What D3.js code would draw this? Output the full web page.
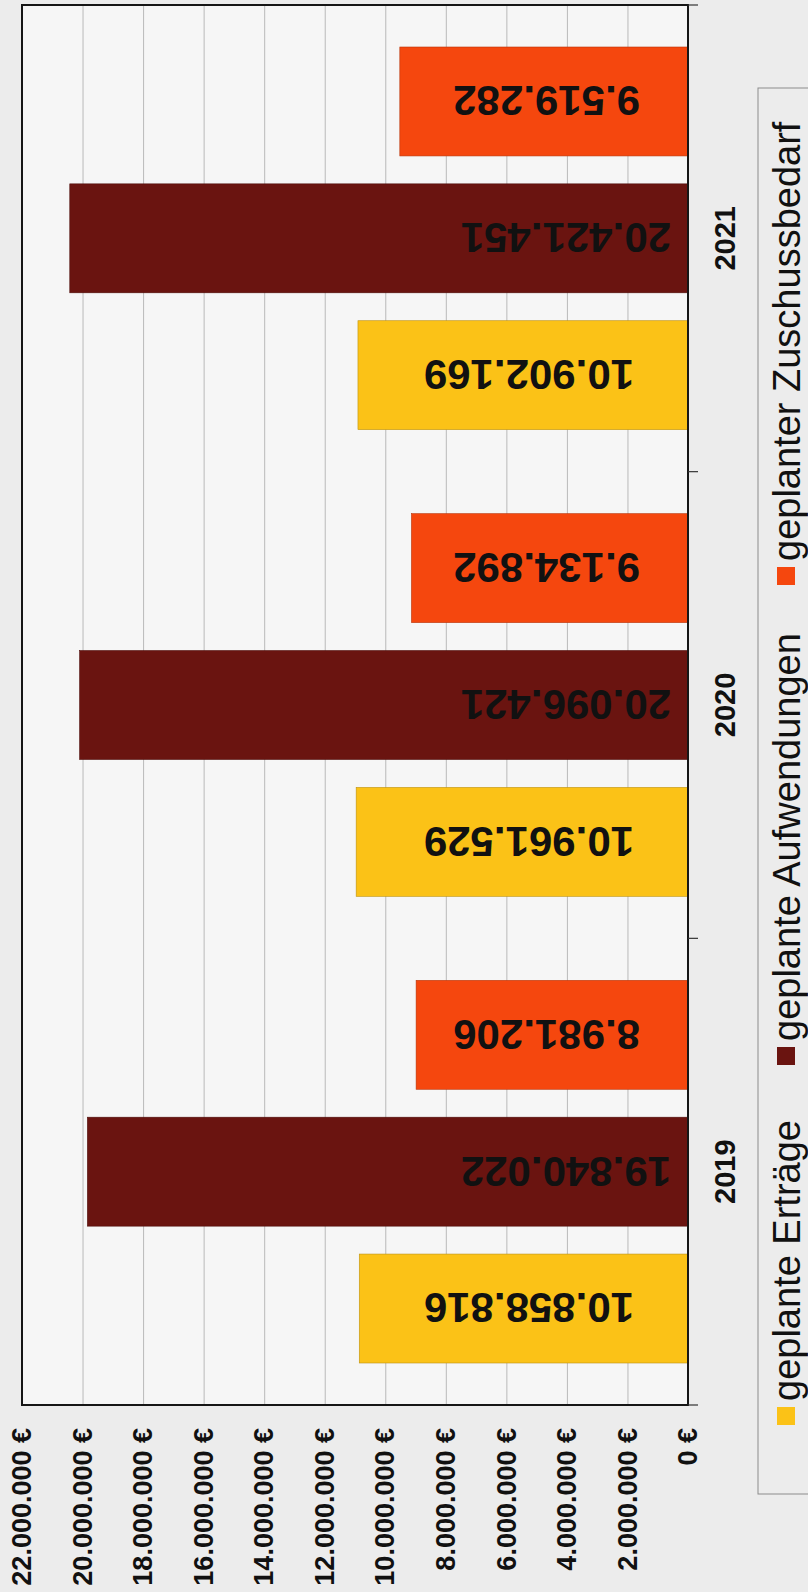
<!DOCTYPE html>
<html>
<head>
<meta charset="utf-8">
<script src="https://cdn.jsdelivr.net/npm/d3@7"></script>
<style>
  html, body { margin: 0; padding: 0; background: #ececec; }
  svg { display: block; }
  text { font-family: "Liberation Sans", Arial, sans-serif; fill: #111; }
</style>
</head>
<body>
<div id="chart"></div>
<script>
// chart data
var years = ["2019", "2020", "2021"],
    series = ["geplante Erträge", "geplante Aufwendungen", "geplanter Zuschussbedarf"],
    ertraege = [10858816, 10961529, 10902169],
    aufwendungen = [19840022, 20096421, 20421451],
    zuschuss = [8981206, 9134892, 9519282],
    tickValues = [0, 2000000, 4000000, 6000000, 8000000, 10000000, 12000000, 14000000, 16000000, 18000000, 20000000, 22000000],
    tickLabels = ["0 €", "2.000.000 €", "4.000.000 €", "6.000.000 €", "8.000.000 €", "10.000.000 €", "12.000.000 €", "14.000.000 €", "16.000.000 €", "18.000.000 €", "20.000.000 €", "22.000.000 €"],
    colors = ["#fbc217", "#6a1410", "#f5470e"];

// the scanned chart is turned on its side, so draw it upright and rotate the group
var plotW = 1400,   // along the category axis
    plotH = 666,    // along the value axis
    labelInset = [54, 17, 48],   // distance of the value label from the bar base, per series
    legendX = [-20, 340, 820];

var de = d3.formatLocale({ decimal: ",", thousands: ".", grouping: [3], currency: ["", " €"] });
var fmt = de.format(",");

var data = [];
for (var i = 0; i < years.length; i++) {
  data.push({ year: years[i], key: series[0], value: ertraege[i], c: 0 });
  data.push({ year: years[i], key: series[1], value: aufwendungen[i], c: 1 });
  data.push({ year: years[i], key: series[2], value: zuschuss[i], c: 2 });
}

var svg = d3.select("#chart").append("svg")
    .attr("width", 808)
    .attr("height", 1592);

var g = svg.append("g")
    .attr("transform", "translate(22,1405) rotate(-90)");

var x0 = d3.scaleBand().domain(years).range([0, plotW]);
var x1 = d3.scaleBand().domain(series).range([42, x0.bandwidth() - 42]).paddingInner(0.204);
var y = d3.scaleLinear().domain([0, 22000000]).range([plotH, 0]);

// plot background
g.append("rect")
  .attr("x", 0).attr("y", 0)
  .attr("width", plotW).attr("height", plotH)
  .style("fill", "#f6f6f6");

// gridlines
var grid = g.append("g")
  .call(d3.axisLeft(y).tickValues(tickValues).tickSize(-plotW).tickFormat(""));
grid.select(".domain").remove();
grid.selectAll("line").style("stroke", "#b9b9b9").style("stroke-width", 1);

// bars
g.selectAll(".bar")
  .data(data)
  .enter().append("rect")
    .attr("class", "bar")
    .attr("x", function(d) { return x0(d.year) + x1(d.key); })
    .attr("y", function(d) { return y(d.value); })
    .attr("width", x1.bandwidth())
    .attr("height", function(d) { return plotH - y(d.value); })
    .style("fill", function(d) { return colors[d.c]; })
    .style("stroke", function(d) { return d3.color(colors[d.c]).darker(0.8); })
    .style("stroke-width", 0.6);

// value labels, starting near the bar base (upside down after the rotation, as in the scan)
g.selectAll(".val")
  .data(data)
  .enter().append("text")
    .attr("class", "val")
    .attr("transform", function(d) {
      var cx = x0(d.year) + x1(d.key) + x1.bandwidth() / 2,
          cy = plotH - labelInset[d.c];
      return "translate(" + cx + "," + cy + ") rotate(-90)";
    })
    .attr("text-anchor", "start")
    .attr("dy", "0.36em")
    .style("font-size", "42px")
    .style("font-weight", "bold")
    .text(function(d) { return fmt(d.value); });

// frame
g.append("rect")
  .attr("x", 0).attr("y", 0)
  .attr("width", plotW).attr("height", plotH)
  .style("fill", "none")
  .style("stroke", "#161616")
  .style("stroke-width", 2);

// category separators
g.selectAll(".sep")
  .data(years.concat(["end"]))
  .enter().append("line")
    .attr("class", "sep")
    .attr("x1", function(d, i) { return i * x0.step(); })
    .attr("x2", function(d, i) { return i * x0.step(); })
    .attr("y1", plotH)
    .attr("y2", plotH + 10)
    .style("stroke", "#333")
    .style("stroke-width", 1.2);

// value axis labels
var yAxis = g.append("g")
  .call(d3.axisLeft(y).tickValues(tickValues).tickSize(0).tickPadding(23)
    .tickFormat(function(d, i) { return tickLabels[i]; }));
yAxis.select(".domain").remove();
yAxis.selectAll("text")
  .style("font-size", "27px")
  .style("font-weight", "bold")
  .style("font-family", "'Liberation Sans', Arial, sans-serif")
  .style("fill", "#111");

// year labels
var xAxis = g.append("g")
  .attr("transform", "translate(0," + plotH + ")")
  .call(d3.axisBottom(x0).tickSize(0).tickPadding(0));
xAxis.select(".domain").remove();
xAxis.selectAll("text")
  .attr("y", 37)
  .attr("dy", "0.36em")
  .style("font-size", "29px")
  .style("font-weight", "bold")
  .style("font-family", "'Liberation Sans', Arial, sans-serif")
  .style("fill", "#111");

// legend
var legend = g.append("g").attr("class", "legend");
legend.append("rect")
  .attr("x", -89).attr("y", 736)
  .attr("width", 1406).attr("height", 90)
  .style("fill", "none")
  .style("stroke", "#8c8c8c")
  .style("stroke-width", 1);

var items = legend.selectAll(".item")
  .data(series)
  .enter().append("g")
    .attr("class", "item")
    .attr("transform", function(d, i) { return "translate(" + legendX[i] + ",755)"; });

items.append("rect")
  .attr("width", 18)
  .attr("height", 18)
  .style("fill", function(d, i) { return colors[i]; });

items.append("text")
  .attr("x", 24)
  .attr("y", 9)
  .attr("dy", "0.36em")
  .style("font-size", "38px")
  .text(function(d) { return d; });
</script>
</body>
</html>
